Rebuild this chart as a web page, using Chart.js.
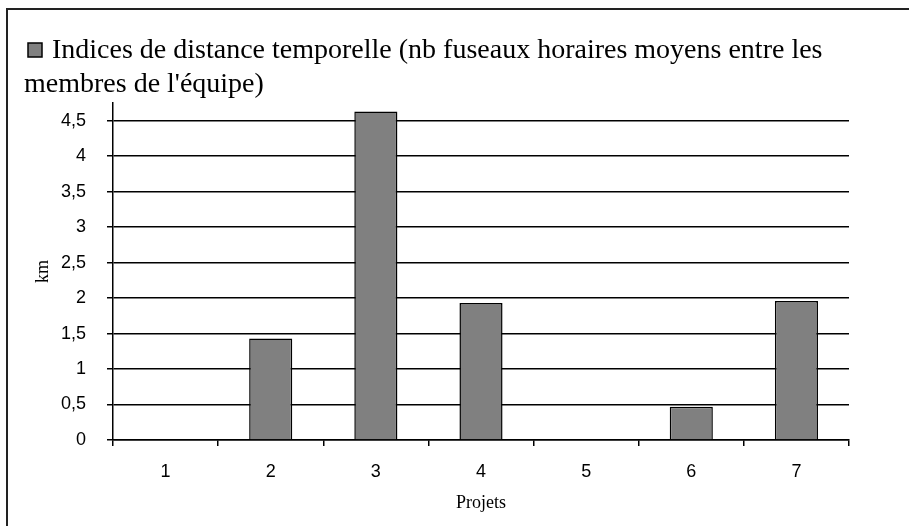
<!DOCTYPE html>
<html>
<head>
<meta charset="utf-8">
<script src="https://cdn.jsdelivr.net/npm/chart.js@4"></script>
<style>
  body { margin: 0; background: #fff; }
  #wrap { position: absolute; left: 0; top: 0; width: 909px; height: 526px; }
  #frame { position: absolute; left: 6px; top: 8px; width: 920px; height: 540px; border-left: 2px solid #222; border-top: 2px solid #222; pointer-events: none; }
</style>
</head>
<body>
<div id="wrap"><canvas id="myBarChart"></canvas></div>
<div id="frame"></div>
<script>
var projets = ['1', '2', '3', '4', '5', '6', '7'];
var indices = [0, 1.43, 4.63, 1.93, 0, 0.47, 1.96];
var yTicks = [0, 0.5, 1, 1.5, 2, 2.5, 3, 3.5, 4, 4.5];
var serieLabel = ["Indices de distance temporelle (nb fuseaux horaires moyens entre les", "membres de l'équipe)"];

var serif = "'Liberation Serif', 'DejaVu Serif', serif";
var sans = "'Liberation Sans', 'DejaVu Sans', sans-serif";

// legend drawn by hand so the long label can wrap on two lines
var wrapLegend = {
  id: 'wrapLegend',
  afterDraw: function (chart) {
    var c = chart.ctx;
    c.save();
    c.fillStyle = '#808080';
    c.fillRect(28, 43, 14, 14);
    c.strokeStyle = '#000';
    c.lineWidth = 1.5;
    c.strokeRect(28, 43, 14, 14);
    c.fillStyle = '#000';
    c.font = '28px ' + serif;
    c.textBaseline = 'alphabetic';
    c.fillText(serieLabel[0], 52, 58);
    c.fillText(serieLabel[1], 24, 92);
    c.restore();
  }
};

var ctx = document.getElementById('myBarChart');
var myChart = new Chart(ctx, {
  type: 'bar',
  data: {
    labels: projets,
    datasets: [{
      label: serieLabel.join(' '),
      data: indices,
      backgroundColor: '#808080',
      borderColor: '#000000',
      borderWidth: 1.5,
      barPercentage: 0.41,
      categoryPercentage: 1
    }]
  },
  plugins: [wrapLegend],
  options: {
    responsive: true,
    maintainAspectRatio: false,
    animation: false,
    layout: { padding: { left: 32, right: 60, top: 103, bottom: 12 } },
    plugins: {
      tooltip: { enabled: false },
      legend: { display: false }
    },
    scales: {
      x: {
        afterFit: function (axis) { axis.height = 74; },
        grid: { display: true, drawOnChartArea: false, color: '#000', lineWidth: 1.5, tickLength: 6, offset: true },
        border: { color: '#000', width: 1.5 },
        ticks: { color: '#000', font: { family: sans, size: 18 }, padding: 15 },
        title: { display: true, text: 'Projets', color: '#000', font: { family: serif, size: 18 }, padding: { top: 0, bottom: 0 } }
      },
      y: {
        min: 0,
        max: 4.75,
        afterBuildTicks: function (axis) {
          axis.ticks = yTicks.map(function (v) { return { value: v }; });
        },
        afterFit: function (axis) { axis.width = 81; },
        grid: { color: '#000', lineWidth: 1.5, tickLength: 6 },
        border: { color: '#000', width: 1.5 },
        ticks: {
          color: '#000',
          font: { family: sans, size: 18 },
          padding: 21,
          callback: function (v) { return String(v).replace('.', ','); }
        },
        title: { display: true, text: 'km', color: '#000', font: { family: serif, size: 18 }, padding: { top: 0, bottom: 0 } }
      }
    }
  }
});
</script>
</body>
</html>
